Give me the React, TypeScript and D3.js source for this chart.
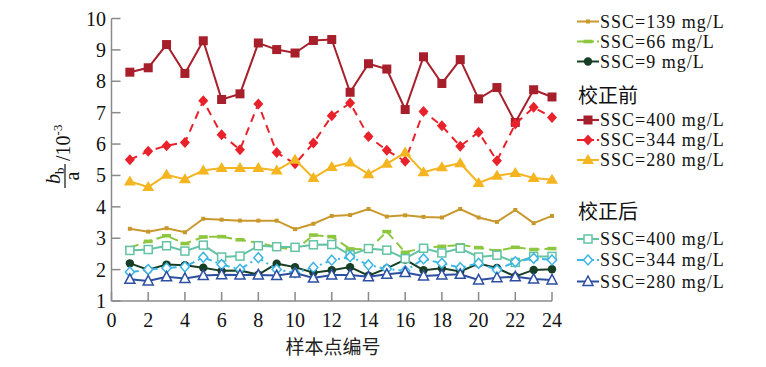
import React from "react";
import * as d3 from "d3";

const xValues = [1,2,3,4,5,6,7,8,9,10,11,12,13,14,15,16,17,18,19,20,21,22,23,24];
const xTicks = [0,2,4,6,8,10,12,14,16,18,20,22,24];
const yTicks = [1,2,3,4,5,6,7,8,9,10];

const before400 = [8.29,8.43,9.17,8.25,9.29,7.42,7.6,9.22,9.01,8.9,9.3,9.33,7.65,8.56,8.39,7.1,8.78,7.93,8.69,7.44,7.8,6.69,7.73,7.5];
const before344 = [5.5,5.77,5.95,6.05,7.38,6.3,5.82,7.28,5.73,5.37,6.03,6.9,7.31,6.24,5.8,5.45,7.04,6.58,5.93,6.38,5.47,6.64,7.17,6.85];
const before280 = [4.81,4.63,5.02,4.88,5.16,5.24,5.24,5.24,5.16,5.5,4.92,5.27,5.41,5.04,5.37,5.73,5.1,5.26,5.39,4.76,4.99,5.08,4.92,4.86];
const ssc139 = [3.3,3.21,3.32,3.19,3.62,3.59,3.56,3.56,3.56,3.29,3.46,3.71,3.74,3.93,3.69,3.73,3.68,3.66,3.93,3.66,3.52,3.9,3.48,3.71];
const ssc66 = [2.7,2.9,3.08,2.83,3.04,3.05,2.95,2.85,2.72,2.62,3.1,3.05,2.66,2.64,3.21,2.55,2.7,2.74,2.79,2.7,2.6,2.71,2.64,2.67];
const ssc9 = [2.2,2.0,2.16,2.14,2.06,1.96,1.97,1.84,2.19,2.08,1.9,1.98,2.08,1.81,2.04,2.32,1.98,2.04,1.94,2.19,2.05,1.78,1.99,2.01];
const after400 = [2.61,2.64,2.76,2.59,2.78,2.4,2.43,2.76,2.73,2.71,2.79,2.8,2.47,2.67,2.62,2.35,2.68,2.53,2.68,2.4,2.46,2.23,2.42,2.42];
const after344 = [1.92,2.0,2.05,2.09,2.39,2.16,2.01,2.38,2.0,1.9,2.07,2.3,2.41,2.15,2.02,1.96,2.34,2.2,2.06,2.2,1.99,2.25,2.36,2.31];
const after280 = [1.69,1.64,1.77,1.72,1.81,1.84,1.83,1.83,1.81,1.89,1.73,1.83,1.83,1.77,1.85,1.91,1.8,1.83,1.85,1.67,1.74,1.77,1.7,1.67];

const labels139 = "SSC=139 mg/L";
const labels66 = "SSC=66 mg/L";
const labels9 = "SSC=9 mg/L";
const groupBefore = "校正前";
const groupAfter = "校正后";
const lab400 = "SSC=400 mg/L";
const lab344 = "SSC=344 mg/L";
const lab280 = "SSC=280 mg/L";
const xTitle = "样本点编号";

type Marker = "square" | "osquare" | "diamond" | "odiamond" | "triangle" | "otriangle" | "circle" | "tinysq" | "dash";

interface Series {
  values: number[];
  color: string;
  dash?: string;
  marker: Marker;
  label: string;
}

const series: Series[] = [
  { values: ssc139, color: "#C9982C", marker: "tinysq", label: labels139 },
  { values: ssc66, color: "#8DC63F", marker: "dash", dash: "9,5", label: labels66 },
  { values: ssc9, color: "#173F26", marker: "circle", label: labels9 },
  { values: before400, color: "#A61F2B", marker: "square", label: lab400 },
  { values: before344, color: "#E8212B", marker: "diamond", dash: "8,6", label: lab344 },
  { values: before280, color: "#F4B520", marker: "triangle", label: lab280 },
  { values: after400, color: "#63C3A4", marker: "osquare", label: lab400 },
  { values: after344, color: "#3BB5E6", marker: "odiamond", dash: "9,4,2,4", label: lab344 },
  { values: after280, color: "#2D4FA1", marker: "otriangle", label: lab280 },
];

function MarkerShape({ m, x, y, color }: { m: Marker; x: number; y: number; color: string }) {
  switch (m) {
    case "square":
      return <rect x={x - 4.5} y={y - 4.5} width={9} height={9} fill={color} />;
    case "osquare":
      return <rect x={x - 4} y={y - 4} width={8} height={8} fill="white" stroke={color} strokeWidth={1.5} />;
    case "tinysq":
      return <rect x={x - 2} y={y - 2} width={4} height={4} fill={color} />;
    case "dash":
      return <rect x={x - 4.5} y={y - 1.8} width={9} height={3.6} fill={color} />;
    case "diamond":
      return <path d={`M${x},${y - 5.5}L${x + 5},${y}L${x},${y + 5.5}L${x - 5},${y}Z`} fill={color} />;
    case "odiamond":
      return <path d={`M${x},${y - 5}L${x + 4.5},${y}L${x},${y + 5}L${x - 4.5},${y}Z`} fill="white" stroke={color} strokeWidth={1.5} />;
    case "triangle":
      return <path d={`M${x},${y - 6}L${x + 6},${y + 4}L${x - 6},${y + 4}Z`} fill={color} />;
    case "otriangle":
      return <path d={`M${x},${y - 5.5}L${x + 5},${y + 4}L${x - 5},${y + 4}Z`} fill="white" stroke={color} strokeWidth={1.5} />;
    case "circle":
      return <circle cx={x} cy={y} r={4.2} fill={color} />;
  }
  return null;
}

export default function App() {
  const W = 766, H = 367;
  const x = d3.scaleLinear().domain([0, 24]).range([111.5, 552]);
  const y = d3.scaleLinear().domain([1, 10]).range([301, 18.5]);
  const line = d3.line<number>().x((_, i) => x(xValues[i])).y((d) => y(d));
  const axisColor = "#8a8a8a";
  const serif = "'Liberation Serif', 'Times New Roman', serif";
  const cjk = "'Noto Sans CJK SC', sans-serif";

  const legendRows: { s?: Series; text: string; cy: number; cjk?: boolean }[] = [
    { s: series[0], text: labels139, cy: 21.5 },
    { s: series[1], text: labels66, cy: 41.5 },
    { s: series[2], text: labels9, cy: 61.5 },
    { text: groupBefore, cy: 96, cjk: true },
    { s: series[3], text: lab400, cy: 120 },
    { s: series[4], text: lab344, cy: 140 },
    { s: series[5], text: lab280, cy: 160 },
    { text: groupAfter, cy: 212, cjk: true },
    { s: series[6], text: lab400, cy: 239 },
    { s: series[7], text: lab344, cy: 260 },
    { s: series[8], text: lab280, cy: 281.5 },
  ];

  return (
    <svg width={W} height={H} style={{ position: "absolute", left: 0, top: 0, background: "white" }}>
      {/* axes */}
      <line x1={x(0)} x2={x(0)} y1={y(1)} y2={y(10)} stroke={axisColor} strokeWidth={1.5} />
      <line x1={x(0)} x2={x(24)} y1={y(1)} y2={y(1)} stroke={axisColor} strokeWidth={1.5} />
      {yTicks.map((t) => (
        <g key={"y" + t}>
          <line x1={x(0)} x2={x(0) + 9} y1={y(t)} y2={y(t)} stroke={axisColor} strokeWidth={1.5} />
          <text x={106} y={y(t) + 7} textAnchor="end" fontFamily={serif} fontSize={20} fill="#111">{t}</text>
        </g>
      ))}
      {xTicks.map((t) => (
        <g key={"x" + t}>
          <line x1={x(t)} x2={x(t)} y1={y(1)} y2={y(1) - 9} stroke={axisColor} strokeWidth={1.5} />
          <text x={x(t)} y={327} textAnchor="middle" fontFamily={serif} fontSize={20} fill="#111">{t}</text>
        </g>
      ))}
      <text x={333} y={354} textAnchor="middle" fontFamily={cjk} fontSize={19} fill="#222">{xTitle}</text>

      {/* y-axis title */}
      <g transform="translate(65,176) rotate(-90)" fontFamily={serif} fill="#111">
        <text fontSize={20}>
          <tspan x={-8} y={-5} fontStyle="italic">b</tspan>
          <tspan fontSize={13} dy={4}>b</tspan>
          <tspan x={0} y={14} textAnchor="middle">a</tspan>
        </text>
        <line x1={-12} x2={12} y1={0} y2={0} stroke="#111" strokeWidth={1.2} />
        <text x={15} y={5} fontSize={20}>/10<tspan fontSize={13} dy={-8}>-3</tspan></text>
      </g>

      {/* series */}
      {series.map((s, si) => (
        <g key={"s" + si}>
          <path d={line(s.values) || ""} fill="none" stroke={s.color} strokeWidth={2} strokeDasharray={s.dash} />
          {s.values.map((v, i) => (
            <MarkerShape key={i} m={s.marker} x={x(xValues[i])} y={y(v)} color={s.color} />
          ))}
        </g>
      ))}

      {/* legend */}
      {legendRows.map((r, i) => (
        <g key={"l" + i}>
          {r.s && (
            <>
              <line x1={577} x2={599} y1={r.cy} y2={r.cy} stroke={r.s.color} strokeWidth={2} strokeDasharray={r.s.dash ? "7,3" : undefined} />
              <MarkerShape m={r.s.marker} x={588} y={r.cy} color={r.s.color} />
            </>
          )}
          <text
            x={r.s ? 600 : 578}
            y={r.cy + (r.cjk ? 7 : 6)}
            fontFamily={r.cjk ? cjk : serif}
            fontSize={r.cjk ? 20 : 18}
            letterSpacing={r.cjk ? 0 : 1}
            fill="#111"
          >
            {r.text}
          </text>
        </g>
      ))}
    </svg>
  );
}
